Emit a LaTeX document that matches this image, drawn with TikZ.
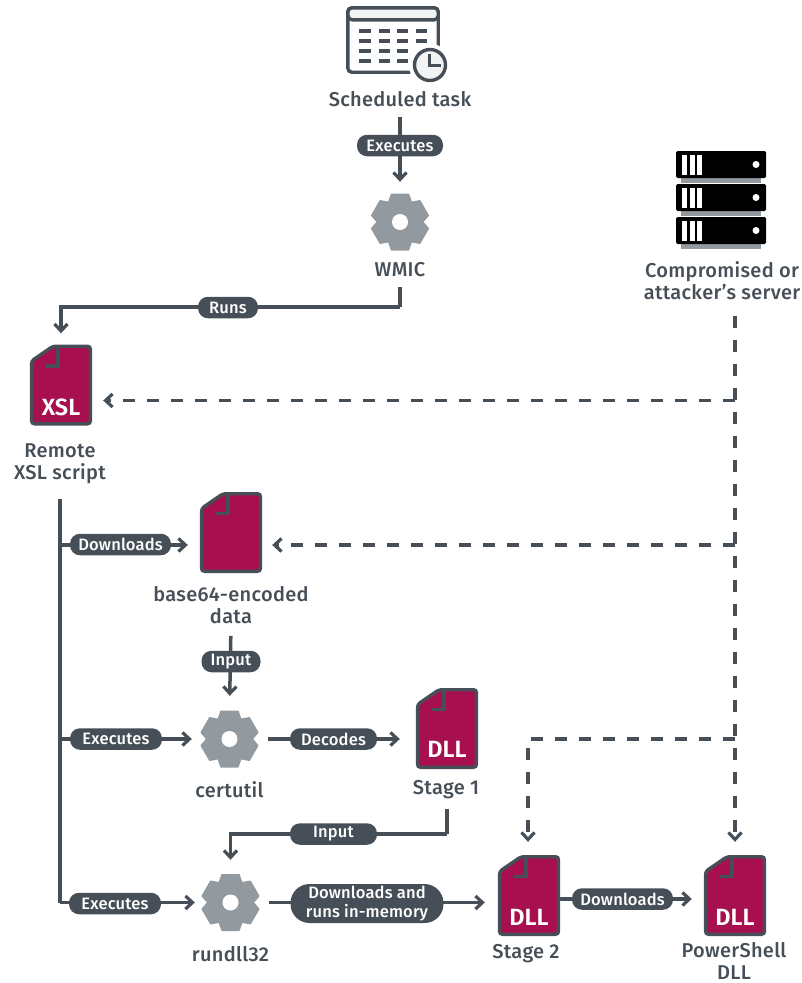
\documentclass[tikz,border=0pt]{standalone}
\usepackage{fontspec}
\setmainfont{Fira Sans}[UprightFont=* Medium,BoldFont=* SemiBold]
\usetikzlibrary{arrows.meta}
\definecolor{ink}{HTML}{464F57}
\definecolor{wine}{HTML}{A80F4E}
\definecolor{cog}{HTML}{939A9F}
\definecolor{pale}{HTML}{F2F3F3}
\tikzset{
  plainwire/.style={draw=ink,line width=3.5pt},
  wire/.style={plainwire,-{Straight Barb[length=7pt,width=13pt,line width=3.2pt]}},
  dashwire/.style={wire,dash pattern=on 12pt off 12pt},
  pill/.style={fill=ink,text=white,rounded corners=10pt,minimum height=21.5pt,inner sep=0pt,font=\fontsize{16.5}{18.5}\selectfont\addfontfeature{LetterSpace=1}},
  lbl/.style={text=ink,align=center,inner sep=0pt,font=\fontsize{20}{22}\selectfont\addfontfeature{LetterSpace=1.5}},
  docbox/.style={minimum width=62pt,minimum height=81pt,inner sep=0pt},
  cogbox/.style={minimum width=56pt,minimum height=58pt,inner sep=0pt},
  doctag/.style={text=white,inner sep=0pt,font=\fontsize{23.5}{23.5}\selectfont\bfseries},
  docicon/.pic={
    \draw[fill=wine,draw=ink,line width=3.4pt,rounded corners=3pt] (-8,-38.8) -- (29.5,-38.8) -- (29.5,38.8) -- (-29.5,38.8) -- (-29.5,-24) -- cycle;
    \draw[ink,line width=3.2pt] (-3,-39) -- (-3,-19) -- (-15,-19);
  },
  cogicon/.pic={
    \fill[cog] (0,0) circle (23.5);
    \foreach \a in {0,60,...,300}
      \fill[cog,rotate=\a,rounded corners=.5pt] (-12,-20) -- (-9,-28.5) -- (9,-28.5) -- (12,-20) -- cycle;
    \fill[white] (0,0) circle (8);
  },
}
\begin{document}
\begin{tikzpicture}[x=1pt,y=-1pt]
\useasboundingbox (0,0) rectangle (802,983);
% calendar
\node[minimum width=90pt,minimum height=64pt,inner sep=0pt] (cal) at (393,40) {};
\draw[ink,fill=white,line width=3.4pt,rounded corners=4pt] (cal.south west) rectangle (cal.north east);
\draw[ink,fill=pale,line width=3.4pt,rounded corners=4pt] (cal.north west) -- (cal.north east) -- ++(0,12) -- ++(-90,0) -- cycle;
\foreach \y in {31,41,51,61}
  \foreach \x/\w in {359/371,379/390,397/408,416/427}
    \draw[ink,line width=3.2pt] (\x,\y) -- (\w,\y);
\node[circle,draw=white,fill=white,minimum size=42pt,inner sep=0pt] (clockgap) at (430,65) {};
\node[circle,draw=ink,fill=pale,line width=3.4pt,minimum size=31pt,inner sep=0pt] (clock) at (430,65) {};
\draw[ink,line width=3pt] (429,54) -- (429,65) -- (441,65);
\node[lbl] (tasklbl) at (400,99) {Scheduled task};
% server
\foreach \y in {151,184,217} {
  \fill[cog] (681,\y+20) rectangle (761,\y+32);
  \fill[black,rounded corners=1.5pt] (676,\y) rectangle (766,\y+27);
  \foreach \x in {682,689.5,697}
    \fill[white] (\x,\y+4) rectangle (\x+5,\y+24);
  \fill[white] (756,\y+13.5) circle (3.5);
}
\node[lbl] (srvlbl) at (722,281) {Compromised or\\attacker's server};
% gears and documents
\node[cogbox] (wmic) at (400,222) {};
\node[cogbox] (certutil) at (229.5,739) {};
\node[cogbox] (rundll) at (230.5,902.5) {};
\foreach \n in {wmic,certutil,rundll}
  \pic at (\n) {cogicon};
\node[docbox] (xsl) at (61,385) {};
\node[docbox] (data) at (231,532.5) {};
\node[docbox] (stagea) at (447,728.5) {};
\node[docbox] (stageb) at (529,895.5) {};
\node[docbox] (psdll) at (735,895.5) {};
\foreach \n in {xsl,data,stagea,stageb,psdll}
  \pic at (\n) {docicon};
\node[doctag] (xsltag) at (61,407) {XSL};
\node[doctag] (stageatag) at (447,749) {DLL};
\node[doctag] (stagebtag) at (529,917) {DLL};
\node[doctag] (psdlltag) at (735,917) {DLL};
% labels
\node[lbl] (wmiclbl) at (400,270) {WMIC};
\node[lbl] (xsllbl) at (60,464) {Remote\\XSL script};
\node[lbl] (datalbl) at (231,605) {base64-encoded\\data};
\node[lbl] (certlbl) at (229.5,790) {certutil};
\node[lbl] (stagealbl) at (446,790) {Stage 1};
\node[lbl] (rundlllbl) at (230.5,954) {rundll32};
\node[lbl] (stageblbl) at (526,954) {Stage 2};
\node[lbl] (psdlllbl) at (734,961) {PowerShell\\DLL};
% junctions
\coordinate (srvout) at (735,316);
\coordinate (srvxsl) at (735,400.5);
\coordinate (srvdata) at (735,545);
\coordinate (srvstage) at (735,739);
\coordinate (srvbend) at (528,739);
\coordinate (trunk) at (60,499);
\coordinate (trunka) at (60,545);
\coordinate (trunkb) at (60,739);
\coordinate (trunkc) at (60,902.5);
\coordinate (wmicbend) at (400,307);
\coordinate (xslbend) at (61,307);
\coordinate (inputbend) at (230.5,834);
\coordinate (stagebend) at (447,834);
\coordinate (dlcrow) at (622.5,899);
% connectors
\draw[wire,shorten <=10pt,shorten >=11pt] (tasklbl.south) -- (wmic.north);
\draw[plainwire,shorten <=10pt] (wmiclbl.south) -- (wmicbend);
\draw[wire,shorten >=11pt] (wmicbend) -- (xslbend) -- (xsl.north);
\draw[plainwire] (trunk) -- (trunkc);
\draw[wire,shorten >=12pt] (trunka) -- (trunka -| data.west);
\draw[wire,shorten >=9.5pt] (trunkb) -- (certutil.west);
\draw[wire,shorten >=7.5pt] (trunkc) -- (rundll.west);
\draw[wire,shorten <=12pt,shorten >=14pt] (datalbl.south) -- (certutil.north);
\draw[wire,shorten <=10.5pt,shorten >=16pt] (certutil.east) -- (certutil.east -| stagea.west);
\draw[plainwire,shorten <=10pt] (stagealbl.south -| stagebend) -- (stagebend);
\draw[wire,shorten >=13.5pt] (stagebend) -- (inputbend) -- (rundll.north);
\draw[wire,shorten <=10.5pt,shorten >=13pt] (rundll.east) -- (rundll.east -| stageb.west);
\draw[wire,shorten >=12pt] (stageb.east |- dlcrow) -- (psdll.west |- dlcrow);
\draw[dashwire,shorten >=13pt] (srvout) -- (psdll.north);
\draw[dashwire,shorten >=11pt] (srvxsl) -- (srvxsl -| xsl.east);
\draw[dashwire,shorten >=10pt] (srvdata) -- (srvdata -| data.east);
\draw[dashwire,shorten >=13pt] (srvstage) -- (srvbend) -- (srvbend |- stageb.north);
% pills
\node[pill,minimum width=86pt] (execa) at (400,145.5) {Executes};
\node[pill,minimum width=60pt] (runs) at (228,307.5) {Runs};
\node[pill,minimum width=101pt] (dlb) at (120.5,544.5) {Downloads};
\node[pill,minimum width=59pt] (inputa) at (231,661.5) {Input};
\node[pill,minimum width=92pt] (execb) at (116,739) {Executes};
\node[pill,minimum width=87pt] (decodes) at (333.5,739) {Decodes};
\node[pill,minimum width=87pt] (inputb) at (333.5,834) {Input};
\node[pill,minimum width=92pt] (execc) at (115,903.5) {Executes};
\node[pill,minimum width=153pt,minimum height=39pt,rounded corners=19pt,align=center] (memrun) at (367,903.5) {Downloads and\\runs in-memory};
\node[pill,minimum width=101pt] (dlc) at (622.5,899) {Downloads};
\end{tikzpicture}
\end{document}
